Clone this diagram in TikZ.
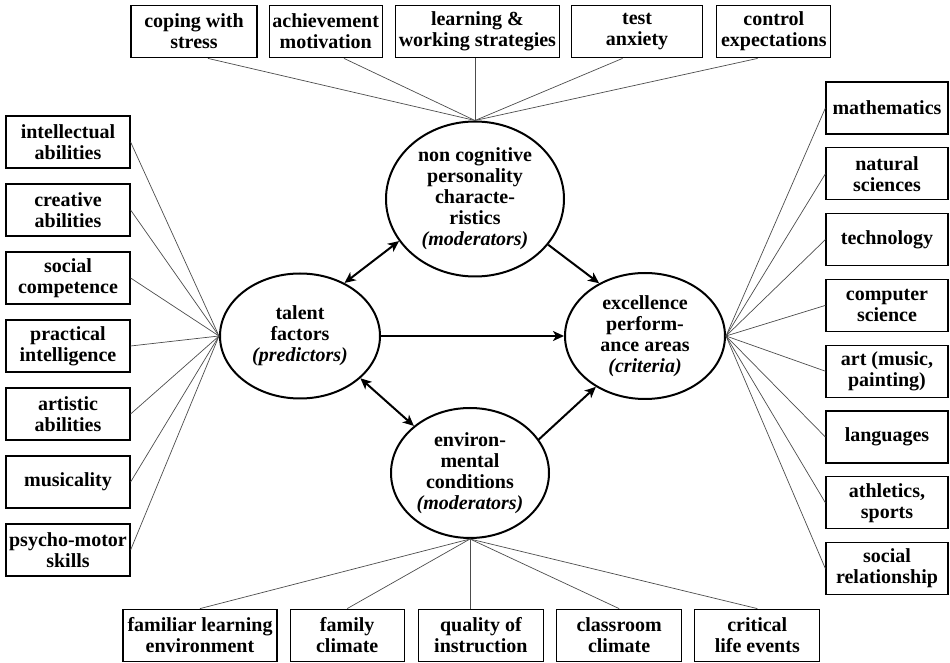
\documentclass[tikz,border=0pt]{standalone}
\usepackage{fontspec}
\setmainfont{Liberation Serif}
\usepackage{tikz}
\usetikzlibrary{arrows.meta, positioning, shapes.geometric, calc}

\begin{document}
\begin{tikzpicture}[x=0.5pt, y=-0.5pt,
    factor/.style={ellipse, draw, line width=1pt, inner sep=0pt,
      align=center, font=\fontsize{10}{10.5}\selectfont\bfseries},
    aspect/.style={rectangle, draw, line width=0.6pt, inner sep=1pt,
      minimum height=26.3pt, align=center,
      font=\fontsize{10}{10.5}\selectfont\bfseries},
    link/.style={line width=0.35pt, black!70},
    arrow/.style={line width=1pt, -{Stealth[length=5.5pt, width=5pt, inset=1.5pt]}},
    twoway/.style={line width=1pt, {Stealth[length=5.5pt, width=5pt, inset=1.5pt]}-{Stealth[length=5.5pt, width=5pt, inset=1.5pt]}}
]
\useasboundingbox (0,0) rectangle (950,663);

% the four factors
\node[factor, minimum width=89pt, minimum height=77.5pt] (nc) at (475,199)
  {non cognitive\\personality\\characte-\\ristics\\\textit{(moderators)}};
\node[factor, minimum width=80pt, minimum height=62.5pt] (talent) at (300,336)
  {talent\\factors\\\textit{(predictors)}};
\node[factor, minimum width=80pt, minimum height=63pt] (excel) at (645,336)
  {excellence\\perform-\\ance areas\\\textit{(criteria)}};
\node[factor, minimum width=79pt, minimum height=65pt] (env) at (470,473)
  {environ-\\mental\\conditions\\\textit{(moderators)}};

% moderators on top
\node[aspect, minimum width=63pt] (stress) at (194,31.5) {coping with\\stress};
\node[aspect, minimum width=56.5pt, right=5.5pt of stress] (motiv) {achievement\\motivation};
\node[aspect, minimum width=82pt, right=6pt of motiv] (strat) {learning \&\\working strategies};
\node[aspect, minimum width=65.5pt, right=5.5pt of strat] (anxiety) {test\\anxiety};
\node[aspect, minimum width=57pt, right=6.5pt of anxiety] (control) {control\\expectations};

% predictors on the left
\node[aspect, minimum width=62pt, minimum height=26pt] (intell) at (68,142) {intellectual\\abilities};
\node[aspect, minimum width=62pt, minimum height=26pt, below=7.4pt of intell] (creat) {creative\\abilities};
\node[aspect, minimum width=62pt, minimum height=26pt, below=7.4pt of creat] (social) {social\\competence};
\node[aspect, minimum width=62pt, minimum height=26pt, below=7.4pt of social] (pract) {practical\\intelligence};
\node[aspect, minimum width=62pt, minimum height=26pt, below=7.4pt of pract] (artist) {artistic\\abilities};
\node[aspect, minimum width=62pt, minimum height=26pt, below=7.4pt of artist] (music) {musicality};
\node[aspect, minimum width=62pt, minimum height=26pt, below=7.4pt of music] (motor) {psycho-motor\\skills};

% criteria on the right
\node[aspect, minimum width=61pt, minimum height=26pt] (math) at (887,108) {mathematics};
\node[aspect, minimum width=61pt, minimum height=26pt, below=6.3pt of math] (natsci) {natural\\sciences};
\node[aspect, minimum width=61pt, minimum height=26pt, below=6.3pt of natsci] (tech) {technology};
\node[aspect, minimum width=61pt, minimum height=26pt, below=6.3pt of tech] (compsci) {computer\\science};
\node[aspect, minimum width=61pt, minimum height=26pt, below=6.3pt of compsci] (art) {art (music,\\painting)};
\node[aspect, minimum width=61pt, minimum height=26pt, below=6.3pt of art] (lang) {languages};
\node[aspect, minimum width=61pt, minimum height=26pt, below=6.3pt of lang] (sport) {athletics,\\sports};
\node[aspect, minimum width=61pt, minimum height=26pt, below=6.3pt of sport] (relat) {social\\relationship};

% environment at the bottom
\node[aspect, minimum width=77pt] (famenv) at (200,635.5) {familiar learning\\environment};
\node[aspect, minimum width=57pt, right=6pt of famenv] (famclim) {family\\climate};
\node[aspect, minimum width=62.5pt, right=6.5pt of famclim] (instr) {quality of\\instruction};
\node[aspect, minimum width=62.5pt, right=6pt of instr] (classclim) {classroom\\climate};
\node[aspect, minimum width=62.5pt, right=6pt of classclim] (events) {critical\\life events};

% thin links
\foreach \n/\f in {stress/.61, motiv/.66, anxiety/.39, control/.36}
  \draw[link] (nc.north) -- ($(\n.south west)!\f!(\n.south east)$);
\draw[link] (nc.north) -- (nc.north |- strat.south);
\foreach \n in {intell, creat, social, pract, artist, music, motor}
  \draw[link] (talent.west) -- (\n.east);
\foreach \n in {math, natsci, tech, compsci, art, lang, sport, relat}
  \draw[link] (excel.east) -- (\n.west);
\foreach \n in {famenv, famclim, classclim, events}
  \draw[link] (env.south) -- (\n.north);
\draw[link] (env.south) -- (env.south |- instr.north);

% arrows between the factors
\draw[twoway] (talent.50) -- (nc.209);
\draw[arrow] (nc.-32) -- (excel.131);
\draw[arrow] (talent.east) -- (excel.west);
\draw[twoway] (talent.-35) -- (env.140);
\draw[arrow] (env.26) -- (excel.226);
\end{tikzpicture}
\end{document}
